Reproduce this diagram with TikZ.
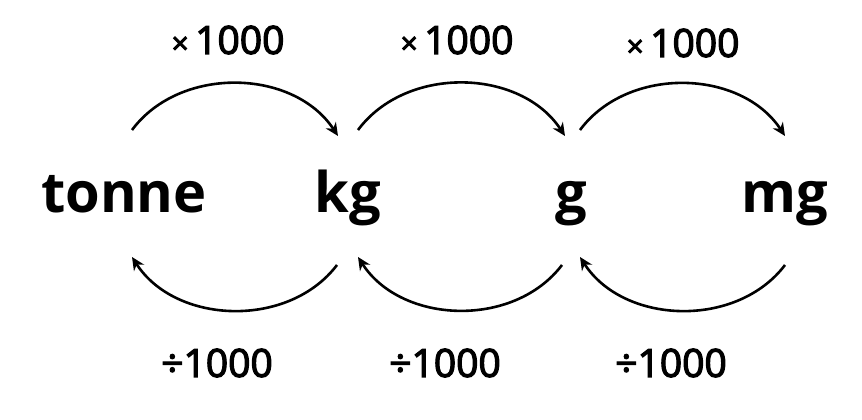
\documentclass[tikz,border=0pt]{standalone}
\usepackage{fontspec}
\setmainfont{Open Sans}
\newfontfamily\factorfont{Open Sans}[FakeBold=3]
\usetikzlibrary{arrows.meta}

\begin{document}
\begin{tikzpicture}[x=1pt,y=1pt,
	unit/.style={font=\fontsize{56}{64}\selectfont\bfseries,anchor=base,inner sep=0pt},
	factor/.style={font=\factorfont\fontsize{39}{44}\selectfont,inner sep=0pt},
	conv/.style={line width=2.6pt,-{Stealth[length=13pt,width=12pt]},bend left=55}]
	\useasboundingbox (0,0) rectangle (862,420);
	\node[unit] (tonne) at (124,207) {tonne};
	\node[unit] (kg) at (348,207) {kg};
	\node[unit] (g) at (571,207) {g};
	\node[unit] (mg) at (785,207) {mg};
	\node[factor] (mul1) at (228,380) {{\fontsize{30}{30}\selectfont×}\,1000};
	\node[factor] (mul2) at (457,380) {{\fontsize{30}{30}\selectfont×}\,1000};
	\node[factor] (mul3) at (683,377) {{\fontsize{30}{30}\selectfont×}\,1000};
	\node[factor] (div1) at (217,57) {÷1000};
	\node[factor] (div2) at (445,57) {÷1000};
	\node[factor] (div3) at (671,57) {÷1000};
	\coordinate (mul1 from) at (132,290);
	\coordinate (mul1 to) at (338,284);
	\coordinate (mul2 from) at (358,290);
	\coordinate (mul2 to) at (565,284);
	\coordinate (mul3 from) at (580,290);
	\coordinate (mul3 to) at (785,284);
	\coordinate (div1 from) at (337,155);
	\coordinate (div1 to) at (132,163);
	\coordinate (div2 from) at (562,155);
	\coordinate (div2 to) at (358,163);
	\coordinate (div3 from) at (785,155);
	\coordinate (div3 to) at (580,163);
	\draw[conv] (mul1 from) to (mul1 to);
	\draw[conv] (mul2 from) to (mul2 to);
	\draw[conv] (mul3 from) to (mul3 to);
	\draw[conv] (div1 from) to (div1 to);
	\draw[conv] (div2 from) to (div2 to);
	\draw[conv] (div3 from) to (div3 to);
\end{tikzpicture}
\end{document}
